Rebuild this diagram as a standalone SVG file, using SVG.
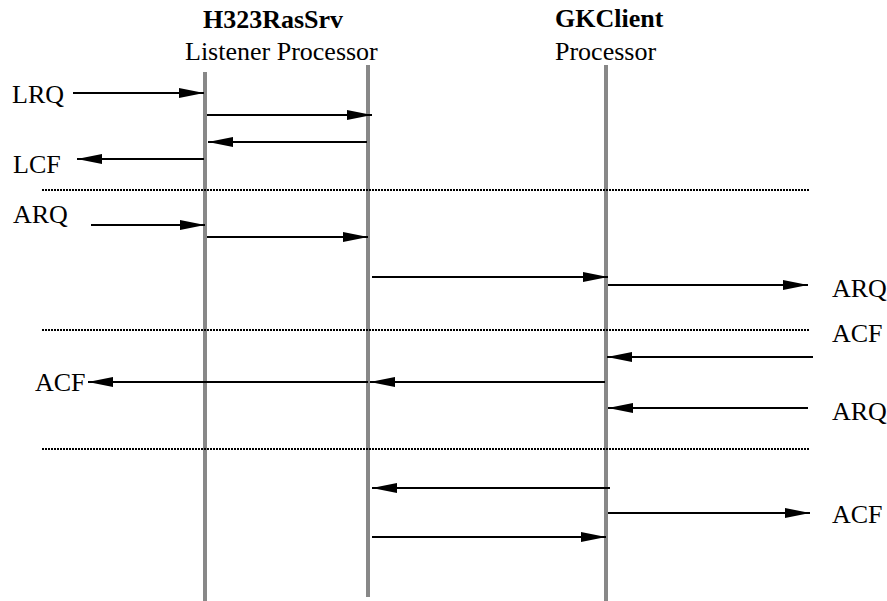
<svg xmlns="http://www.w3.org/2000/svg" width="887" height="601" viewBox="0 0 887 601">
<style>
text{font-family:"Liberation Serif","Times New Roman",serif;font-size:26px;fill:#000}
.b{font-weight:bold}
.life{stroke:#888;stroke-width:4;fill:none}
.msg{stroke:#000;stroke-width:2;fill:none;marker-end:url(#ah)}
.sep{stroke:#000;stroke-width:2;stroke-dasharray:2 1;fill:none}
</style>
<defs>
<marker id="ah" markerUnits="userSpaceOnUse" markerWidth="26" markerHeight="12" refX="25" refY="5" orient="auto">
<path d="M0,0 L25,5 L0,10 z" fill="#000"/>
</marker>
</defs>
<rect width="887" height="601" fill="#fff"/>
<g id="listener">
<line class="life" x1="205" y1="72" x2="205" y2="601"/>
<text class="b" x="203" y="28">H323RasSrv</text>
<text x="185" y="60">Listener Processor</text>
</g>
<g id="processor">
<line class="life" x1="368" y1="65" x2="368" y2="597"/>
</g>
<g id="gkclient">
<line class="life" x1="606" y1="65" x2="606" y2="601"/>
<text class="b" x="555" y="27">GKClient</text>
<text x="555" y="60">Processor</text>
</g>
<g id="separators">
<line class="sep" x1="42" y1="190" x2="810" y2="190"/>
<line class="sep" x1="42" y1="330" x2="810" y2="330"/>
<line class="sep" x1="42" y1="449" x2="810" y2="449"/>
</g>
<g id="labels">
<text x="12" y="103">LRQ</text>
<text x="13" y="173">LCF</text>
<text x="13" y="223">ARQ</text>
<text x="35" y="391">ACF</text>
<text x="832" y="297">ARQ</text>
<text x="832" y="342">ACF</text>
<text x="832" y="420">ARQ</text>
<text x="832" y="523">ACF</text>
</g>
<g id="connectors">
<line class="msg" x1="73" y1="93" x2="204" y2="93"/>
<line class="msg" x1="207" y1="115" x2="372" y2="115"/>
<line class="msg" x1="367" y1="142" x2="208" y2="142"/>
<line class="msg" x1="204" y1="159" x2="77" y2="159"/>
<line class="msg" x1="91" y1="225" x2="205" y2="225"/>
<line class="msg" x1="207" y1="237" x2="368" y2="237"/>
<line class="msg" x1="372" y1="277" x2="608" y2="277"/>
<line class="msg" x1="608" y1="285" x2="808" y2="285"/>
<line class="msg" x1="813" y1="357" x2="607" y2="357"/>
<line class="msg" x1="605" y1="382" x2="370" y2="382"/>
<line class="msg" x1="368" y1="382" x2="88" y2="382"/>
<line class="msg" x1="808" y1="408" x2="608" y2="408"/>
<line class="msg" x1="610" y1="488" x2="372" y2="488"/>
<line class="msg" x1="608" y1="513" x2="810" y2="513"/>
<line class="msg" x1="372" y1="537" x2="606" y2="537"/>
</g>
</svg>
